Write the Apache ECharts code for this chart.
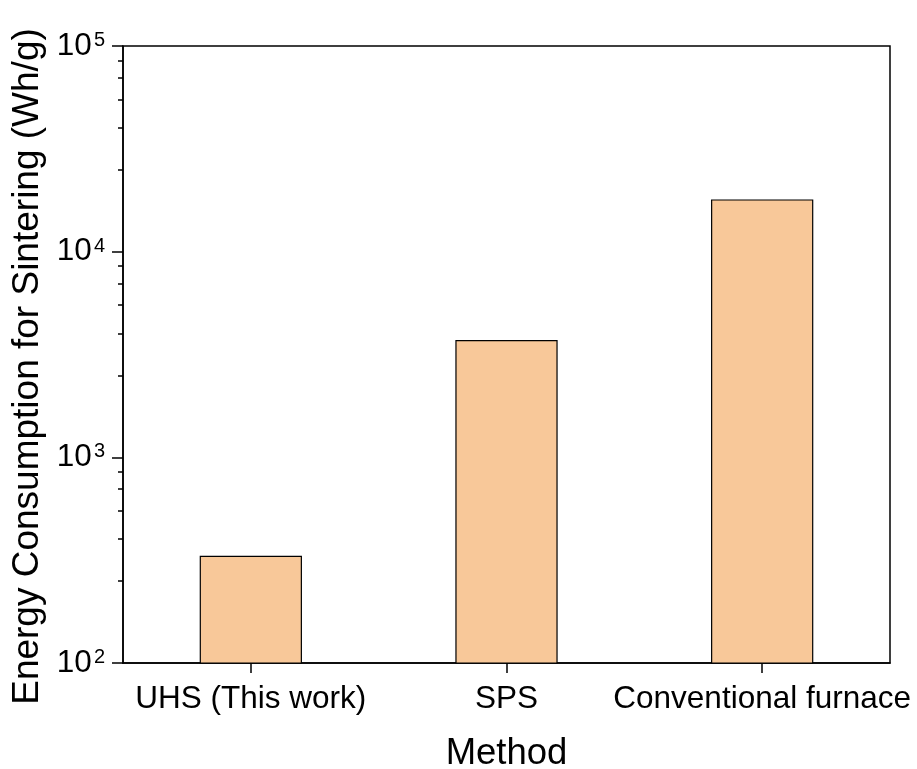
<!DOCTYPE html>
<html>
<head>
<meta charset="utf-8">
<script src="https://cdn.jsdelivr.net/npm/echarts@6/dist/echarts.min.js"></script>
<style>
html,body{margin:0;padding:0;background:#fff;}
#chart{width:917px;height:769px;}
</style>
</head>
<body>
<div id="chart"></div>
<script>
const categories = ['UHS (This work)', 'SPS', 'Conventional furnace'];
const energyValues = [332, 3720, 17950];
const yMin = 100;
const yMax = 100000;
const xAxisTitle = 'Method';
const yAxisTitle = 'Energy Consumption for Sintering (Wh/g)';

const FONT = '"Liberation Sans", Arial, sans-serif';
const chart = echarts.init(document.getElementById('chart'));
chart.setOption({
  backgroundColor: '#ffffff',
  animation: false,
  grid: {
    left: 123, right: 27, top: 46, bottom: 106,
    containLabel: false,
    outerBoundsMode: 'none',
    show: true, borderColor: '#000', borderWidth: 1.5, backgroundColor: 'transparent'
  },
  xAxis: {
    type: 'category',
    data: categories,
    name: xAxisTitle,
    nameLocation: 'middle',
    nameGap: 72,
    nameTextStyle: { fontFamily: FONT, fontSize: 36.5, color: '#000' },
    axisLine: { show: true, lineStyle: { color: '#000', width: 1.5 } },
    axisTick: { show: true, alignWithLabel: true, inside: false, length: 10, lineStyle: { color: '#000', width: 1.5 } },
    axisLabel: { fontFamily: FONT, fontSize: 31.5, color: '#000', margin: 20, interval: 0, hideOverlap: false },
    splitLine: { show: false }
  },
  yAxis: {
    type: 'log',
    logBase: 10,
    min: yMin,
    max: yMax,
    interval: 1,
    name: yAxisTitle,
    nameLocation: 'middle',
    nameGap: 76,
    nameTextStyle: { fontFamily: FONT, fontSize: 37, color: '#000', padding: [0, 24, 0, 0] },
    axisLine: { show: true, lineStyle: { color: '#000', width: 1.5 } },
    axisTick: { show: true, inside: false, length: 11, lineStyle: { color: '#000', width: 1.5 } },
    minorTick: { show: true, splitNumber: 6, length: 5, lineStyle: { color: '#000', width: 1.5 } },
    axisLabel: {
      margin: 18,
      formatter: function (v) {
        return '{b|10}{s|' + Math.round(Math.log10(v)) + '}';
      },
      rich: {
        b: { fontFamily: FONT, fontSize: 31.5, color: '#000', lineHeight: 31 },
        s: { fontFamily: FONT, fontSize: 20, color: '#000', verticalAlign: 'top', lineHeight: 20, padding: [0, 0, 10, 2] }
      }
    },
    splitLine: { show: false }
  },
  series: [{
    type: 'bar',
    data: energyValues,
    barWidth: '40%',
    itemStyle: { color: '#F8C899', borderColor: '#000', borderWidth: 1.2 }
  }]
});
</script>
</body>
</html>
